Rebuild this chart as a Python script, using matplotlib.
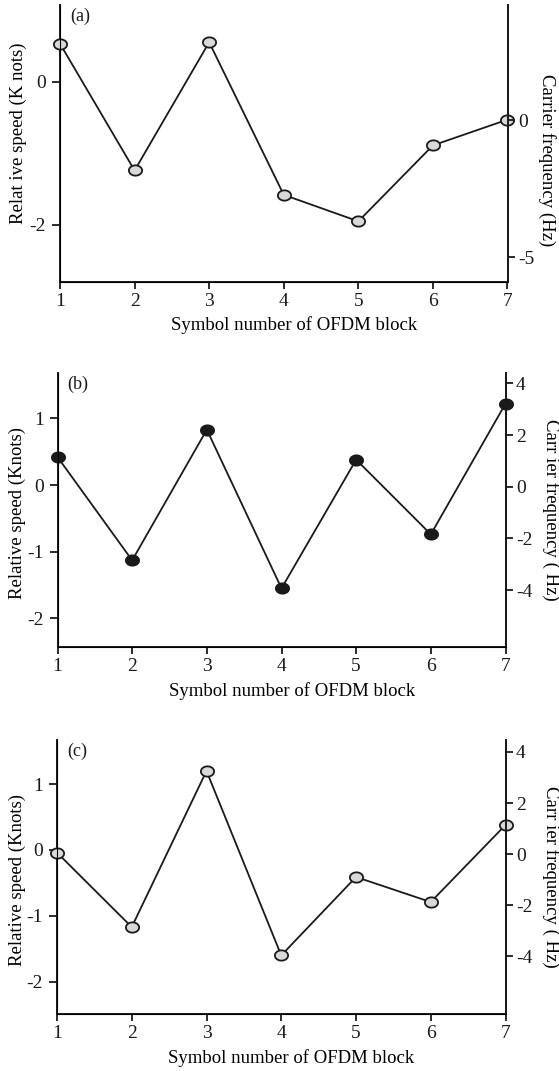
import matplotlib
matplotlib.use("Agg")
import matplotlib.pyplot as plt
import numpy as np
from matplotlib.path import Path

plt.rcParams['font.family'] = ['Liberation Serif', 'DejaVu Serif']

symbols = [1, 2, 3, 4, 5, 6, 7]
speed_a = [0.53, -1.24, 0.55, -1.58, -1.95, -0.89, -0.53]
speed_b = [0.42, -1.13, 0.83, -1.55, 0.38, -0.74, 1.22]
speed_c = [-0.04, -1.17, 1.20, -1.60, -0.41, -0.79, 0.38]

left_ticks_a = [-2, 0]
left_ticks_bc = [-2, -1, 0, 1]
right_ticks_a = [-5, 0]
right_ticks_bc = [-4, -2, 0, 2, 4]

panel_labels = ['(a)', '(b)', '(c)']
ylabels_left = ['Relat ive speed (K nots)', 'Relative speed (Knots)', 'Relative speed (Knots)']
ylabels_right = ['Carrier frequency (Hz)', 'Carr ier frequency ( Hz)', 'Carr ier frequency ( Hz)']
xlabel = 'Symbol number of OFDM block'

# ellipse marker
t = np.linspace(0, 2*np.pi, 60)
ell = Path(np.column_stack([np.cos(t), 0.78*np.sin(t)]), closed=True)

W, H = 559, 1071
fig = plt.figure(figsize=(W/100, H/100), dpi=100)

boxes = [
    (60, 5, 507.5, 281.5),
    (57.5, 373, 505.5, 647),
    (57, 740, 505.5, 1014),
]
ylims_left = [(-2.79, 1.07), (-2.43, 1.68), (-2.49, 1.67)]
ylims_right = [(-5.88, 4.2), (-6.2, 4.4), (-6.27, 4.47)]
data = [speed_a, speed_b, speed_c]
faces = ['#d9d9d9', '#1a1a1a', '#d9d9d9']
lticks = [left_ticks_a, left_ticks_bc, left_ticks_bc]
rticks = [right_ticks_a, right_ticks_bc, right_ticks_bc]
# label centres in pixels (x for left label, x for right label, y offsets)
left_lab_x = [18.5, 17, 17]
right_lab_x = [547, 551, 551]
left_lab_yc = [133.5, 513, 880]
right_lab_yc = [160, 510, 877]

fs_tick = 14
fs_lab = 13.5
ink = '#1a1a1a'
for i in range(3):
    x0, y0, x1, y1 = boxes[i]
    aw, ah = x1 - x0, y1 - y0
    ax = fig.add_axes([x0/W, 1 - y1/H, aw/W, ah/H])
    ax.plot(symbols, data[i], color=ink, lw=1.3, marker=ell, ms=9.5,
            mfc=faces[i], mec=ink, mew=1.3, zorder=5, clip_on=False)
    ax.set_xlim(1, 7)
    ax.set_ylim(*ylims_left[i])
    ax.set_xticks(symbols)
    ax.set_yticks(lticks[i])
    ax.set_yticklabels([str(v) for v in lticks[i]])
    ax.spines['top'].set_visible(False)
    for s in ['left', 'bottom', 'right']:
        ax.spines[s].set_linewidth(1.4)
        ax.spines[s].set_color(ink)
    ax.tick_params(axis='x', direction='out', length=5, width=1.3,
                   labelsize=fs_tick, colors=ink, pad=3)
    ax.tick_params(axis='y', direction='out', length=5.5, width=1.3,
                   labelsize=fs_tick, colors=ink, pad=4.5)
    ax.set_xlabel(xlabel, fontsize=fs_lab, va='center', ha='center')
    ax.xaxis.set_label_coords(0.523, -44/ah)
    ax.set_ylabel(ylabels_left[i], fontsize=fs_lab, va='center', ha='center')
    ax.yaxis.set_label_coords((left_lab_x[i] - x0)/aw, (y1 - left_lab_yc[i])/ah)
    ax.text(10/aw, 1 - 3/ah, panel_labels[i], transform=ax.transAxes,
            fontsize=13, va='top', ha='left', color=ink)

    ax2 = ax.twinx()
    ax2.set_ylim(*ylims_right[i])
    ax2.set_yticks(rticks[i])
    ax2.set_yticklabels([str(v) for v in rticks[i]])
    ax2.spines['top'].set_visible(False)
    ax2.spines['right'].set_linewidth(1.4)
    ax2.spines['right'].set_color(ink)
    ax2.tick_params(axis='y', direction='out', length=5, width=1.3,
                    labelsize=fs_tick, pad=2.5, colors=ink)
    ax2.set_ylabel(ylabels_right[i], fontsize=fs_lab, rotation=-90,
                   va='center', ha='center')
    ax2.yaxis.set_label_coords((right_lab_x[i] - x0)/aw, (y1 - right_lab_yc[i])/ah)

fig.savefig('out.png', dpi=100)
